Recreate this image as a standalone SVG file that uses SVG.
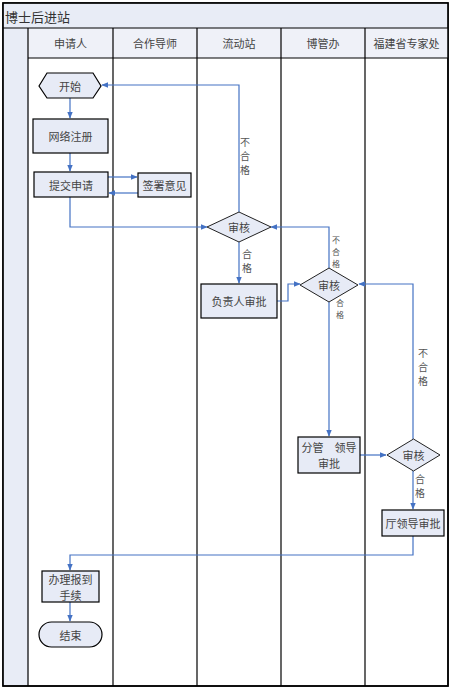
<svg xmlns="http://www.w3.org/2000/svg" width="456" height="690" viewBox="0 0 456 690">
<style>
.lane{fill:none;stroke:#000;stroke-width:1.2}
.node{fill:#e7ebf6;stroke:#000;stroke-width:1.2}
.dia{fill:#e7ebf6;stroke:#222;stroke-width:1}
.t{font-family:"Noto Sans CJK SC","Liberation Sans",sans-serif;font-size:11px;fill:#444;text-anchor:middle;dominant-baseline:central}
.s{font-family:"Noto Sans CJK SC","Liberation Sans",sans-serif;font-size:10px;fill:#555;text-anchor:middle;dominant-baseline:central}
.xs{font-family:"Noto Sans CJK SC","Liberation Sans",sans-serif;font-size:8px;fill:#555;text-anchor:middle;dominant-baseline:central}
.c{fill:none;stroke:#4472c4;stroke-width:1.2}
</style>
<defs>
<marker id="a" viewBox="0 0 10 10" refX="9" refY="5" markerWidth="7" markerHeight="7" orient="auto" markerUnits="userSpaceOnUse">
<path d="M0,1 L10,5 L0,9 z" fill="#4472c4"/>
</marker>
</defs>
<g id="frame">
<rect x="3" y="3" width="445" height="683" fill="#fff" stroke="#000" stroke-width="1.5"/>
<rect x="3.5" y="3.5" width="444" height="25" fill="#e8ecf6"/>
<rect x="3.5" y="28" width="25" height="657" fill="#e8ecf6"/>
<rect x="28" y="28" width="420" height="30" fill="#eff1f8"/>
<line x1="3" y1="28" x2="448" y2="28" class="lane"/>
<line x1="28" y1="58" x2="448" y2="58" class="lane"/>
<line x1="28" y1="28" x2="28" y2="686" class="lane"/>
<line x1="113" y1="28" x2="113" y2="686" class="lane"/>
<line x1="197" y1="28" x2="197" y2="686" class="lane"/>
<line x1="281" y1="28" x2="281" y2="686" class="lane"/>
<line x1="365" y1="28" x2="365" y2="686" class="lane"/>
<rect x="3" y="3" width="445" height="683" fill="none" stroke="#000" stroke-width="1.5"/>
<text x="5" y="16" font-family="Noto Sans CJK SC, Liberation Serif, serif" font-size="13" fill="#333" dominant-baseline="central">博士后进站</text>
<text x="70.5" y="43" class="t">申请人</text>
<text x="155" y="43" class="t">合作导师</text>
<text x="239" y="43" class="t">流动站</text>
<text x="323" y="43" class="t">博管办</text>
<text x="406.5" y="43" class="t">福建省专家处</text>
</g>
<g id="connectors">
<path class="c" d="M70,98 V118" marker-end="url(#a)"/>
<path class="c" d="M70,153 V171" marker-end="url(#a)"/>
<path class="c" d="M108,177 H137" marker-end="url(#a)"/>
<path class="c" d="M138,193 H109" marker-end="url(#a)"/>
<path class="c" d="M70,197 V227 H207" marker-end="url(#a)"/>
<path class="c" d="M239,212 V85 H102" marker-end="url(#a)"/>
<path class="c" d="M239,242 V283" marker-end="url(#a)"/>
<path class="c" d="M277,301 H288 V284 H300" marker-end="url(#a)"/>
<path class="c" d="M329,268 V227 H271" marker-end="url(#a)"/>
<path class="c" d="M329,302 V436" marker-end="url(#a)"/>
<path class="c" d="M360,455 H386" marker-end="url(#a)"/>
<path class="c" d="M413,439 V284 H359" marker-end="url(#a)"/>
<path class="c" d="M413,471 V509" marker-end="url(#a)"/>
<path class="c" d="M413,536 V555 H70 V570" marker-end="url(#a)"/>
<path class="c" d="M70,602 V621" marker-end="url(#a)"/>
<text class="s"><tspan x="245" y="141">不</tspan><tspan x="245" y="155">合</tspan><tspan x="245" y="169">格</tspan></text>
<text class="s"><tspan x="247" y="253">合</tspan><tspan x="247" y="267">格</tspan></text>
<text class="xs"><tspan x="336" y="239">不</tspan><tspan x="336" y="251">合</tspan><tspan x="336" y="263">格</tspan></text>
<text class="xs"><tspan x="340" y="302">合</tspan><tspan x="340" y="314">格</tspan></text>
<text class="s"><tspan x="423" y="352">不</tspan><tspan x="423" y="366">合</tspan><tspan x="423" y="380">格</tspan></text>
<text class="s"><tspan x="420" y="478">合</tspan><tspan x="420" y="492">格</tspan></text>
</g>
<g id="start">
<polygon class="node" points="39,86 47,73 93,73 101,86 93,98 47,98"/>
<text x="70" y="85.5" class="t">开始</text>
</g>
<g id="register">
<rect class="node" x="33" y="119" width="75" height="34"/>
<text x="70.5" y="136" class="t">网络注册</text>
</g>
<g id="submit">
<rect class="node" x="34" y="172" width="74" height="25"/>
<text x="71" y="184.5" class="t">提交申请</text>
</g>
<g id="sign">
<rect class="node" x="138" y="173" width="53" height="24"/>
<text x="164.5" y="185" class="t">签署意见</text>
</g>
<g id="review1">
<polygon class="dia" points="207,227 239,212 271,227 239,242"/>
<text x="239" y="227" class="t">审核</text>
</g>
<g id="head">
<rect class="node" x="201" y="284" width="76" height="34"/>
<text x="239" y="301" class="t">负责人审批</text>
</g>
<g id="review2">
<polygon class="dia" points="300,285 329,268 358,285 329,302"/>
<text x="329" y="284.5" class="t">审核</text>
</g>
<g id="leader">
<rect class="node" x="298" y="437" width="62" height="36"/>
<text x="329" y="447" class="t">分管　领导</text>
<text x="329" y="463" class="t">审批</text>
</g>
<g id="review3">
<polygon class="dia" points="387,455 413.5,439 440,455 413.5,471"/>
<text x="413.5" y="455" class="t">审核</text>
</g>
<g id="dept">
<rect class="node" x="382" y="510" width="62" height="26"/>
<text x="413" y="523" class="t">厅领导审批</text>
</g>
<g id="checkin">
<rect class="node" x="42" y="571" width="57" height="31"/>
<text x="70.5" y="578.5" class="t">办理报到</text>
<text x="70.5" y="594.5" class="t">手续</text>
</g>
<g id="end">
<rect class="node" x="39" y="622" width="63" height="25" rx="12.5" ry="12.5"/>
<text x="70.5" y="634.5" class="t">结束</text>
</g>
</svg>
